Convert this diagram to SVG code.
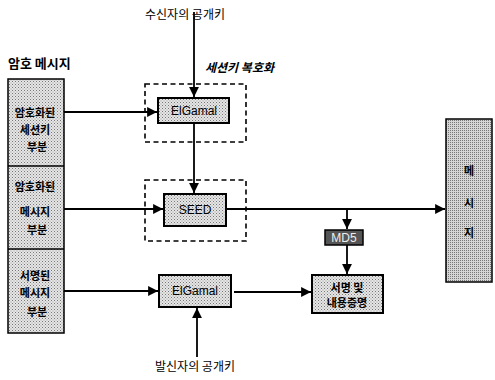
<svg xmlns="http://www.w3.org/2000/svg" width="495" height="380" viewBox="0 0 495 380">
<defs>
<pattern id="dots" width="3" height="3" patternUnits="userSpaceOnUse">
<rect width="3" height="3" fill="#e6e6e6"/>
<rect x="0" y="0" width="1" height="1" fill="#777"/>
<rect x="1.5" y="1.5" width="1" height="1" fill="#999"/>
</pattern>
<pattern id="dots2" width="2" height="2" patternUnits="userSpaceOnUse">
<rect width="2" height="2" fill="#d6d6d6"/>
<rect x="0" y="0" width="1" height="1" fill="#777"/>
</pattern>
<marker id="ah" viewBox="0 0 10 10" refX="10" refY="5" markerWidth="5.5" markerHeight="5.5" orient="auto" markerUnits="strokeWidth">
<path d="M0,0 L10,5 L0,10 z" fill="#000"/>
</marker>
</defs>
<style>
text{font-family:"Noto Sans CJK KR","Noto Sans",sans-serif;fill:#000}
.lbl{font-size:12px}
.cell{font-size:11px;font-weight:bold;text-anchor:middle}
.box{stroke:#000;stroke-width:2}
.bt{font-family:"Liberation Sans",Arial,sans-serif;font-size:12px;text-anchor:middle}
.ln{stroke:#000;stroke-width:1.8;fill:none}
.dash{stroke:#000;stroke-width:1.6;fill:none;stroke-dasharray:5,3.5}
</style>
<text x="8" y="68" font-size="13" font-weight="bold">암호 메시지</text>
<g id="msg">
<rect x="8" y="79" width="56" height="254" fill="url(#dots)" stroke="#000" stroke-width="1.5"/>
<line x1="8" y1="166" x2="64" y2="166" stroke="#000" stroke-width="1.5"/>
<line x1="8" y1="249" x2="64" y2="249" stroke="#000" stroke-width="1.5"/>
<text class="cell" x="35" y="117">암호화된</text>
<text class="cell" x="35" y="134">세션키</text>
<text class="cell" x="37" y="151">부분</text>
<text class="cell" x="35" y="191">암호화된</text>
<text class="cell" x="35" y="216">메시지</text>
<text class="cell" x="37" y="234">부분</text>
<text class="cell" x="35" y="280">서명된</text>
<text class="cell" x="35" y="297">메시지</text>
<text class="cell" x="37" y="316">부분</text>
</g>
<g id="session-decrypt">
<rect x="145" y="84" width="101" height="58" class="dash"/>
<text x="205" y="72" font-size="12" font-style="italic" font-weight="bold">세션키 복호화</text>
</g>
<g id="seed-group">
<rect x="145" y="180" width="101" height="61" class="dash"/>
</g>
<g id="elgamal1">
<rect x="158" y="98" width="71" height="25" fill="url(#dots)" class="box"/>
<text class="bt" x="194" y="115">ElGamal</text>
</g>
<g id="seed">
<rect x="164" y="194" width="62" height="32" fill="url(#dots)" class="box"/>
<text class="bt" x="195" y="214">SEED</text>
</g>
<g id="elgamal2">
<rect x="159" y="275" width="72" height="32" fill="url(#dots)" class="box"/>
<text class="bt" x="195" y="295">ElGamal</text>
</g>
<g id="md5">
<rect x="325" y="230" width="38" height="15" fill="#555" stroke="#000" stroke-width="1.5"/>
<text class="bt" x="344" y="242" font-size="11" style="fill:#eee">MD5</text>
</g>
<g id="verify">
<rect x="312" y="275" width="71" height="38" fill="url(#dots)" class="box"/>
<text class="cell" x="347" y="292">서명 및</text>
<text class="cell" x="347" y="307">내용증명</text>
</g>
<g id="message">
<rect x="446" y="119" width="46" height="163" fill="url(#dots2)" stroke="#000" stroke-width="1.5"/>
<text class="cell" x="469" y="175" font-size="12">메</text>
<text class="cell" x="469" y="207" font-size="12">시</text>
<text class="cell" x="469" y="237" font-size="12">지</text>
</g>
<g id="labels">
<text class="lbl" x="185" y="19" text-anchor="middle">수신자의 공개키</text>
<text class="lbl" x="195" y="371" text-anchor="middle">발신자의 공개키</text>
</g>
<g id="connectors">
<line class="ln" x1="194" y1="12" x2="194" y2="97" marker-end="url(#ah)"/>
<line class="ln" x1="64" y1="112" x2="157" y2="112" marker-end="url(#ah)"/>
<line class="ln" x1="194" y1="123" x2="194" y2="193" marker-end="url(#ah)"/>
<line class="ln" x1="64" y1="209" x2="163" y2="209" marker-end="url(#ah)"/>
<line class="ln" x1="226" y1="209" x2="445" y2="209" marker-end="url(#ah)"/>
<line class="ln" x1="347" y1="209" x2="347" y2="229" marker-end="url(#ah)"/>
<line class="ln" x1="347" y1="245" x2="347" y2="274" marker-end="url(#ah)"/>
<line class="ln" x1="64" y1="291" x2="158" y2="291" marker-end="url(#ah)"/>
<line class="ln" x1="234" y1="292" x2="311" y2="292" marker-end="url(#ah)"/>
<line class="ln" x1="197" y1="357" x2="197" y2="308" marker-end="url(#ah)"/>
</g>
</svg>
